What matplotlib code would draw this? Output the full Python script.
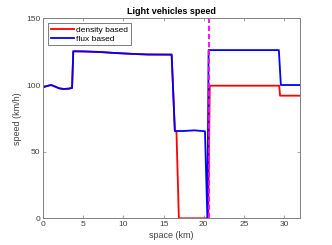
import matplotlib
matplotlib.use('Agg')
import matplotlib.pyplot as plt

plt.rcParams['font.family'] = ['Liberation Sans', 'DejaVu Sans']

# 数据 (km, km/h)
x_flux = [0, 0.5, 1.0, 1.5, 2.0, 2.6, 3.2, 3.6, 3.75, 5, 7, 9, 11.3, 13, 16.0,
          16.4, 17.5, 18.8, 20.15, 20.45, 20.6, 29.35, 29.6, 32]
y_flux = [98.3, 99.3, 100.0, 98.8, 97.5, 97.0, 97.3, 97.8, 125.3, 125.2, 124.8,
          124.0, 123.3, 122.9, 122.8, 65.5, 65.5, 66.0, 65.3, 0, 126.2, 126.2,
          100.0, 100.0]

x_dens = [0, 0.5, 1.0, 1.5, 2.0, 2.6, 3.2, 3.6, 3.75, 5, 7, 9, 11.3, 13, 16.0,
          16.4, 16.6, 16.9, 20.55, 20.75, 29.4, 29.5, 32]
y_dens = [98.3, 99.3, 100.0, 98.8, 97.5, 97.0, 97.3, 97.8, 125.3, 125.2, 124.8,
          124.0, 123.3, 122.9, 122.8, 65.5, 65.0, 0, 0, 99.5, 99.5, 92.0, 92.0]

x_mark = 20.6
x_ticks = [0, 5, 10, 15, 20, 25, 30]
y_ticks = [0, 50, 100, 150]

axis_col = '#808080'
text_col = '#404040'

fig = plt.figure(figsize=(3.32, 2.45), dpi=100)
ax = fig.add_axes([0.130, 0.109, 0.774, 0.816])

ax.plot(x_dens, y_dens, color='#ff0000', lw=1.3, label='density based')
ax.plot(x_flux, y_flux, color='#0000ff', lw=1.3, label='flux based')
ax.axvline(x_mark, color='#ff00ff', lw=1.3, linestyle=(0, (3, 1.5)))

ax.set_xlim(0, 32)
ax.set_ylim(0, 150)
ax.set_xticks(x_ticks)
ax.set_yticks(y_ticks)
ax.tick_params(direction='in', length=2.5, width=0.5, labelsize=6,
               colors=axis_col, labelcolor=text_col, top=True, right=True, pad=2)
for s in ax.spines.values():
    s.set_color(axis_col)
    s.set_linewidth(0.7)

ax.set_title('Light vehicles speed', fontsize=6.5, fontweight='bold', pad=3)
ax.set_xlabel('space (km)', fontsize=6.5, color=text_col, labelpad=2)
ax.set_ylabel('speed (km/h)', fontsize=6.5, color=text_col, labelpad=3)

leg = ax.legend(loc='upper left', fontsize=6, frameon=True, fancybox=False,
                handlelength=2.8, borderpad=0.3, labelspacing=0.15,
                handletextpad=0.3, borderaxespad=0.6)
leg.get_frame().set_edgecolor(text_col)
leg.get_frame().set_linewidth(0.6)

plt.savefig('out.png', dpi=100)
